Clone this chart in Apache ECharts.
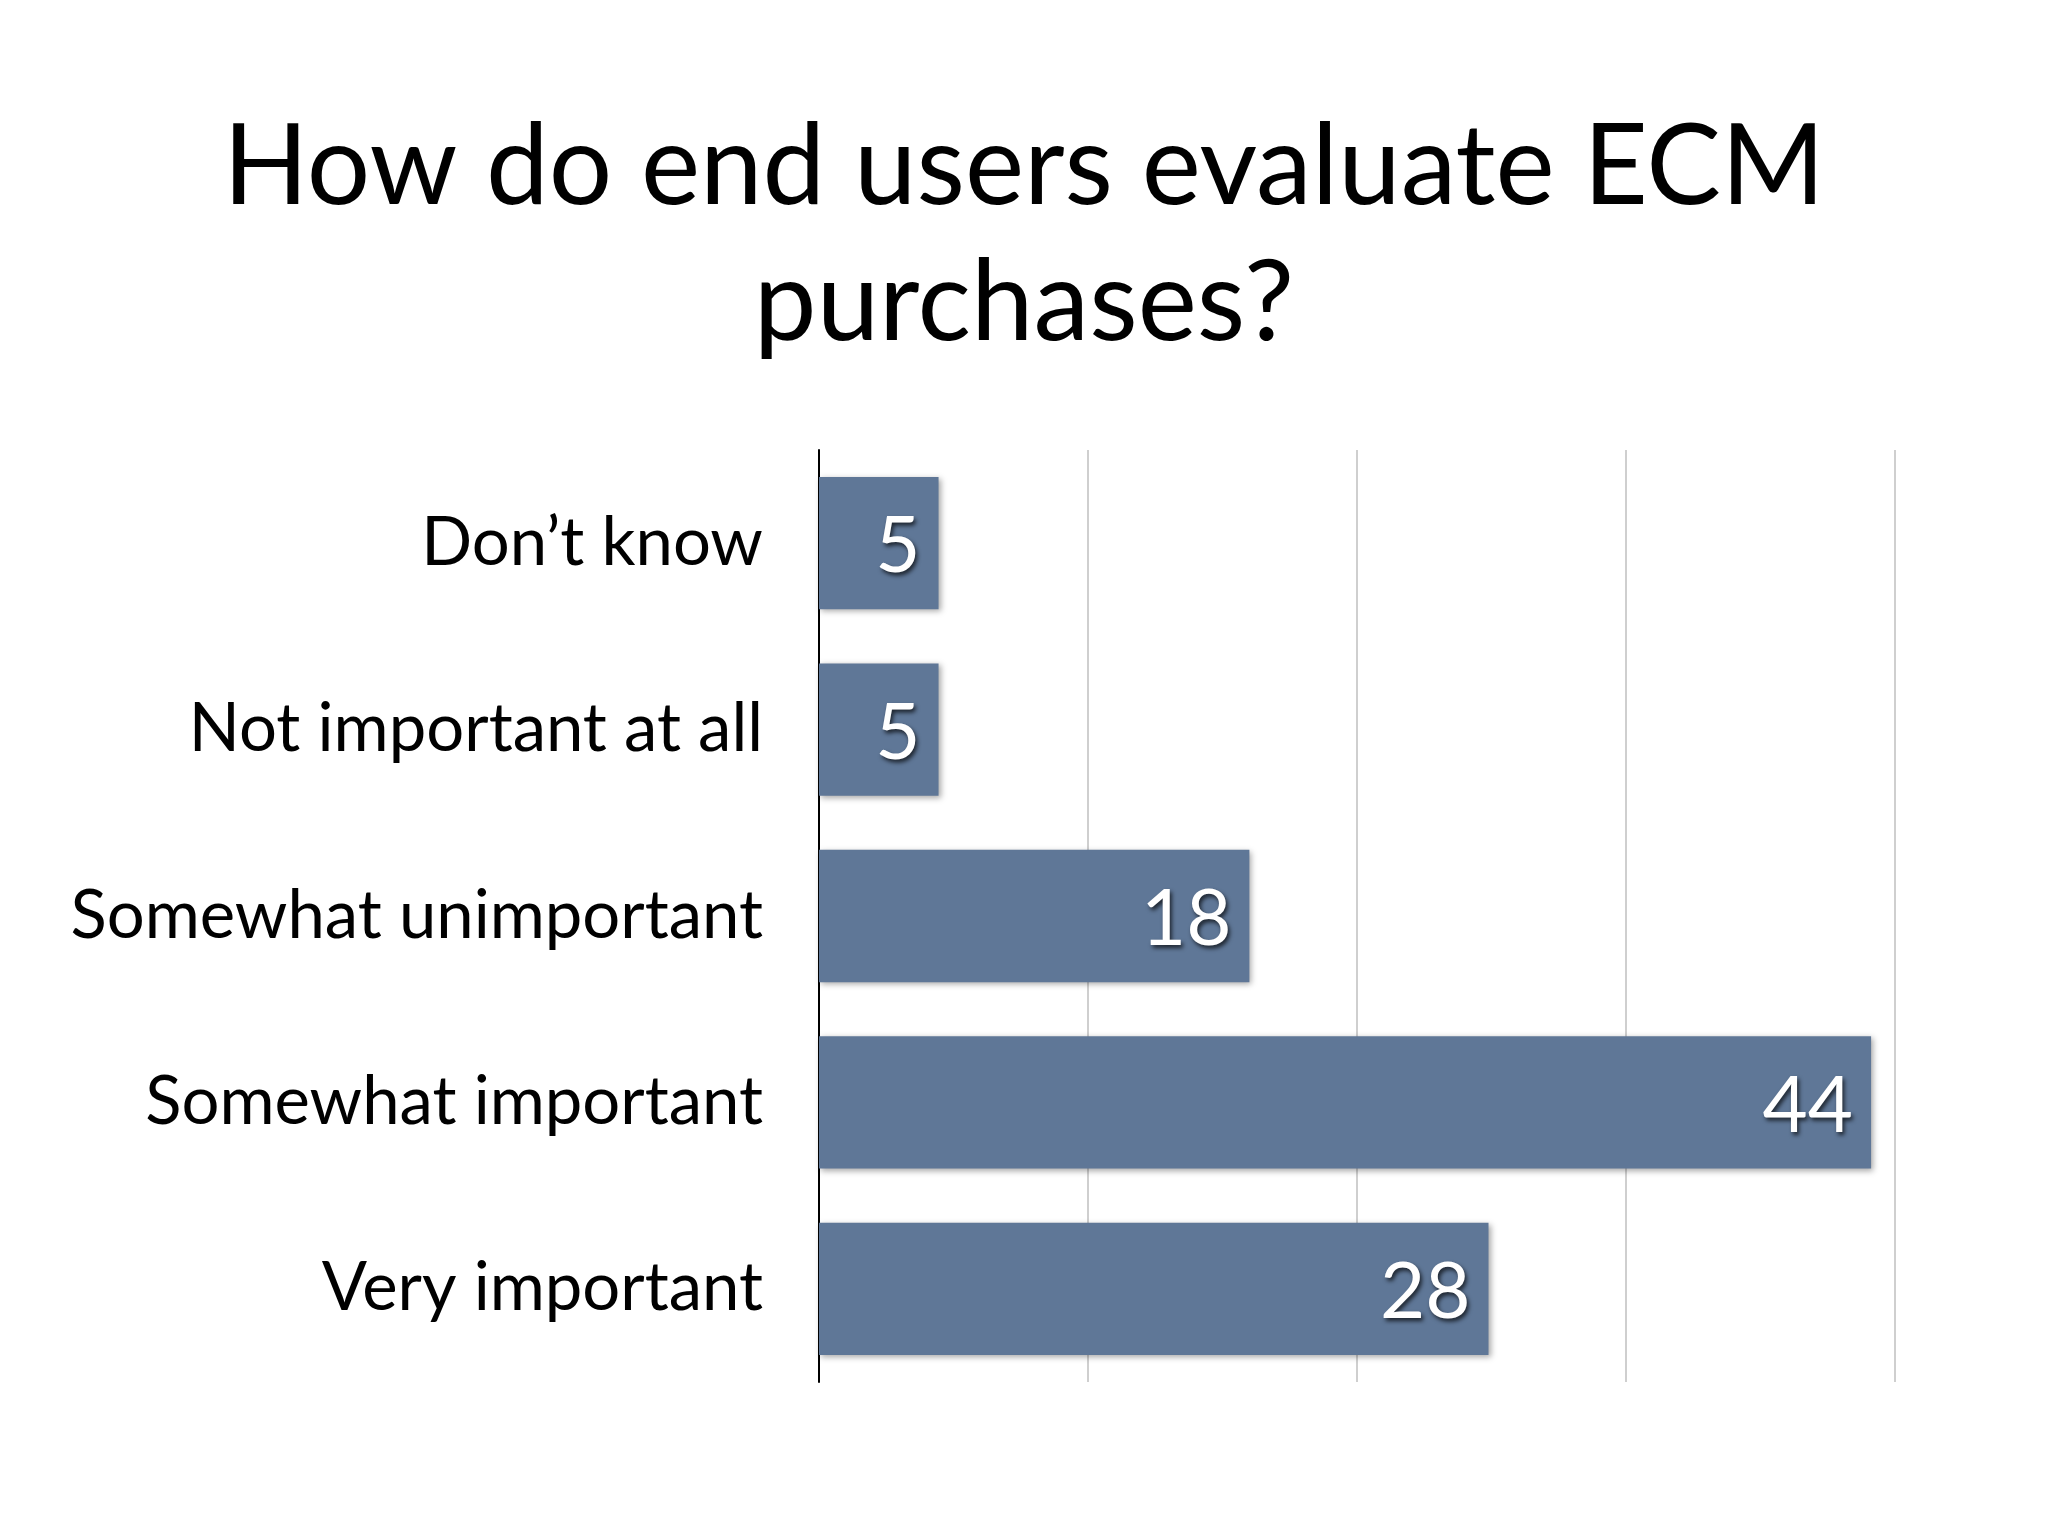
<!DOCTYPE html>
<html>
<head>
<meta charset="utf-8">
<script src="https://cdn.jsdelivr.net/npm/echarts@6/dist/echarts.min.js"></script>
<style>
html,body{margin:0;padding:0;background:#ffffff;}
#chart{width:2048px;height:1536px;}
</style>
</head>
<body>
<div id="chart"></div>
<script>
var titleText = 'How do end users evaluate ECM\npurchases?';
var categories = ['Don\u2019t know', 'Not important at all', 'Somewhat unimportant', 'Somewhat important', 'Very important'];
var values = [5, 5, 18, 44, 28];
var axisMin = 0;
var axisMax = 45;
var axisInterval = 11.25;

var chart = echarts.init(document.getElementById('chart'), null, {renderer: 'canvas'});
chart.setOption({
  backgroundColor: '#ffffff',
  animation: false,
  title: {
    text: titleText,
    left: 'center',
    top: 95,
    textStyle: {
      fontFamily: 'Lato',
      fontWeight: 'normal',
      fontSize: 112,
      lineHeight: 136,
      color: '#000000',
      align: 'center'
    }
  },
  grid: {left: 819, top: 450, right: 153, bottom: 154, containLabel: false},
  xAxis: {
    type: 'value',
    min: axisMin,
    max: axisMax,
    interval: axisInterval,
    axisLine: {show: false},
    axisTick: {show: false},
    axisLabel: {show: false},
    splitLine: {show: true, lineStyle: {color: '#cfcfcf', width: 2}}
  },
  yAxis: {
    type: 'category',
    data: categories,
    inverse: true,
    axisLine: {show: true, lineStyle: {color: '#000000', width: 2}},
    axisTick: {show: false},
    axisLabel: {
      margin: 56,
      fontFamily: 'Lato',
      fontSize: 67,
      color: '#000000',
      padding: [6, 0, 0, 0]
    }
  },
  series: [{
    type: 'bar',
    data: values,
    barCategoryGap: '29%',
    itemStyle: {
      color: '#5f7797',
      shadowColor: 'rgba(0,0,0,0.35)',
      shadowBlur: 6,
      shadowOffsetX: 2,
      shadowOffsetY: 2
    },
    label: {
      show: true,
      position: 'insideRight',
      distance: 18,
      offset: [0, 4],
      fontFamily: 'Lato',
      fontSize: 78,
      color: '#ffffff',
      textShadowColor: 'rgba(0,0,0,0.7)',
      textShadowBlur: 4,
      textShadowOffsetX: 2,
      textShadowOffsetY: 3
    }
  }]
});
</script>
</body>
</html>
